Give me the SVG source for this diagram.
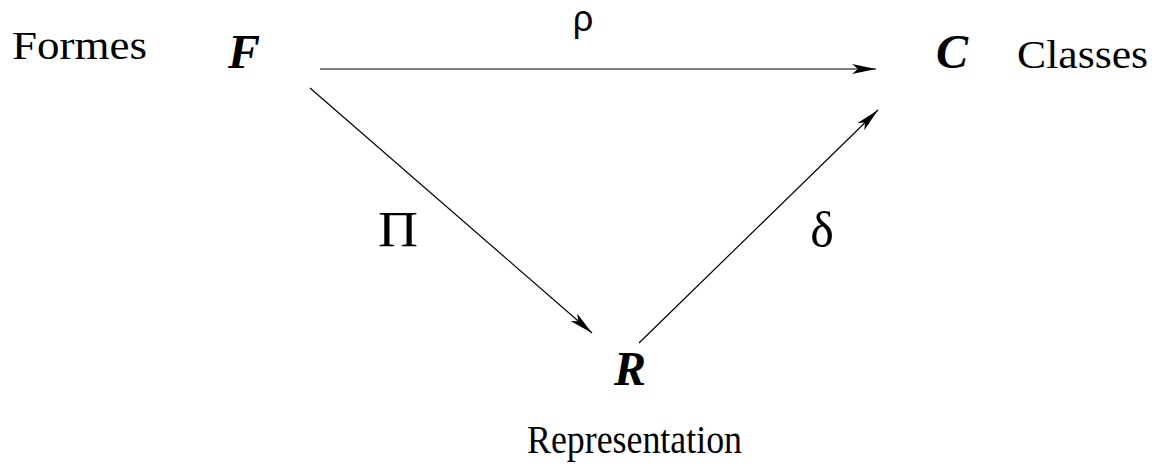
<svg xmlns="http://www.w3.org/2000/svg" width="1157" height="464" viewBox="0 0 1157 464">
<style>
.lbl{font-family:"Liberation Serif",serif;font-size:40px;fill:#000}
.var{font-family:"Liberation Serif",serif;font-size:48px;font-weight:bold;font-style:italic;fill:#000}
.sym{font-family:"Liberation Serif",serif;font-size:50px;fill:#000}
.edge{stroke:#000;stroke-width:1.2;fill:none}
</style>
<defs>
<marker id="ah" viewBox="0 0 24 10" refX="24" refY="5" markerWidth="24" markerHeight="10" markerUnits="userSpaceOnUse" orient="auto">
<path d="M0,0 L24,5 L0,10 L6,5 Z" fill="#000"/>
</marker>
</defs>
<rect width="1157" height="464" fill="#fff"/>
<g id="node-F">
<text class="lbl" x="12" y="59" textLength="135" lengthAdjust="spacingAndGlyphs">Formes</text>
<text class="var" x="228" y="68">F</text>
</g>
<g id="node-C">
<text class="var" x="936" y="68">C</text>
<text class="lbl" x="1017" y="68" textLength="131" lengthAdjust="spacingAndGlyphs">Classes</text>
</g>
<g id="node-R">
<text class="var" x="614" y="385">R</text>
<text class="lbl" x="527" y="453" textLength="215" lengthAdjust="spacingAndGlyphs">Representation</text>
</g>
<g id="connectors">
<line class="edge" x1="320" y1="69" x2="876" y2="69" marker-end="url(#ah)"/>
<line class="edge" x1="310" y1="88" x2="592" y2="333" marker-end="url(#ah)"/>
<line class="edge" x1="639" y1="343" x2="878" y2="110" marker-end="url(#ah)"/>
<text x="583" y="31" text-anchor="middle" style="font-family:'Liberation Sans',sans-serif;font-size:36px">ρ</text>
<text class="sym" x="398" y="246" text-anchor="middle" textLength="40" lengthAdjust="spacingAndGlyphs">Π</text>
<text class="sym" x="822" y="247" text-anchor="middle">δ</text>
</g>
</svg>
